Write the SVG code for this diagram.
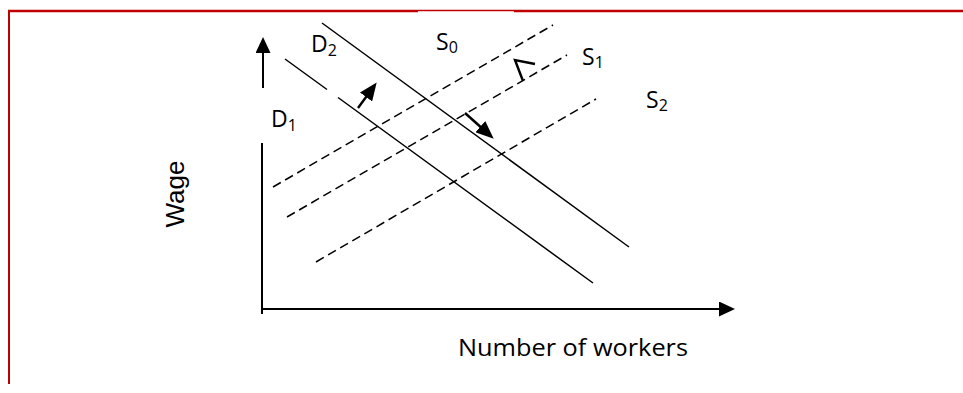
<svg xmlns="http://www.w3.org/2000/svg" width="963" height="393" viewBox="0 0 963 393">
<style>
.frame{stroke:#C00000;fill:none}
.axis{stroke:#000;stroke-width:2;fill:none}
.demand{stroke:#000;stroke-width:1.5;fill:none}
.supply{stroke:#000;stroke-width:1.5;fill:none;stroke-dasharray:9 5}
.shift{stroke:#000;stroke-width:2.4;fill:none}
.lbl{font-family:"Open Sans","Liberation Sans",sans-serif;font-size:23px;fill:#000}
.sub{font-size:16px}
</style>
<defs>
<marker id="ah" markerUnits="userSpaceOnUse" viewBox="0 0 16 15" markerWidth="16" markerHeight="15" refX="5" refY="7.5" orient="auto">
<path d="M0,0 L16,7.5 L0,15 z" fill="#000"/>
</marker>
<marker id="ah2" markerUnits="userSpaceOnUse" viewBox="0 0 18 15" markerWidth="18" markerHeight="15" refX="5" refY="7.5" orient="auto">
<path d="M0,0 L18,7.5 L0,15 z" fill="#000"/>
</marker>
</defs>
<g id="frame">
<path class="frame" stroke-width="2.5" d="M8,11 H418 M514,11 H963"/>
<path class="frame" stroke-width="1.5" d="M418,10.6 H514"/>
<path class="frame" stroke-width="2" d="M9,10 V384"/>
</g>
<g id="axes">
<line class="axis" x1="263" y1="88" x2="263" y2="48" marker-end="url(#ah)"/>
<line class="axis" x1="262" y1="143" x2="262" y2="314"/>
<line class="axis" x1="261" y1="309" x2="724" y2="309" marker-end="url(#ah)"/>
<text class="lbl" x="458" y="356" font-size="26" textLength="230" lengthAdjust="spacingAndGlyphs">Number of workers</text>
<text x="0" y="0" transform="translate(184,194) rotate(-90)" text-anchor="middle" font-family="Liberation Sans, Arial, sans-serif" font-size="26">Wage</text>
</g>
<g id="D1">
<path class="demand" d="M285,59 L327,89.5 M338,97.5 L593,283"/>
<text class="lbl" x="271" y="127">D<tspan class="sub" dy="4">1</tspan></text>
</g>
<g id="D2">
<line class="demand" x1="322" y1="23" x2="629" y2="247"/>
<text class="lbl" x="311" y="52">D<tspan class="sub" dy="4">2</tspan></text>
</g>
<g id="S0">
<line class="supply" x1="273" y1="187" x2="553" y2="25"/>
<text class="lbl" x="436" y="50">S<tspan class="sub" dy="3">0</tspan></text>
</g>
<g id="S1">
<line class="supply" x1="287" y1="217" x2="567" y2="55"/>
<text class="lbl" x="582" y="65">S<tspan class="sub" dy="3">1</tspan></text>
</g>
<g id="S2">
<line class="supply" x1="316" y1="262" x2="596" y2="99"/>
<text class="lbl" x="646" y="108">S<tspan class="sub" dy="3">2</tspan></text>
</g>
<g id="connectors">
<line class="shift" x1="358" y1="108" x2="369" y2="93" marker-end="url(#ah2)"/>
<line class="shift" x1="465" y1="113" x2="484" y2="130" marker-end="url(#ah2)"/>
<polyline class="shift" points="535,64 515,60 523,81"/>
</g>
</svg>
